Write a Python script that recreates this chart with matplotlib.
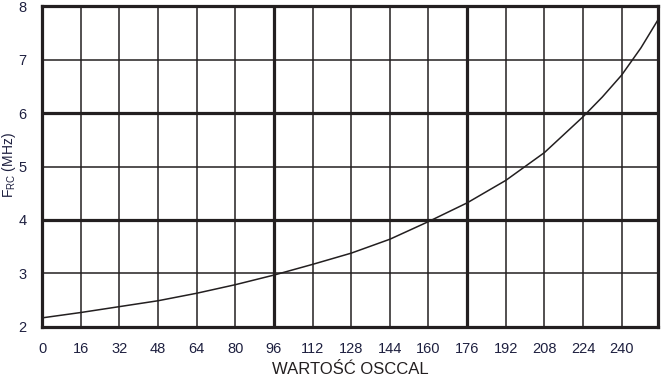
import matplotlib
matplotlib.use("Agg")
import matplotlib.pyplot as plt
import numpy as np

plt.rcParams['font.family'] = ['Liberation Sans', 'DejaVu Sans']

osccal = [0, 16, 32, 48, 64, 80, 96, 112, 128, 144, 160, 176, 192, 208, 224, 232, 240, 248, 255]
freq = [2.17, 2.27, 2.38, 2.49, 2.63, 2.79, 2.97, 3.17, 3.38, 3.64, 3.97, 4.32, 4.74, 5.26, 5.93, 6.30, 6.71, 7.22, 7.74]
xticks = list(range(0, 256, 16))
yticks = [2, 3, 4, 5, 6, 7, 8]
thick_x = [96, 176]
thick_y = [4, 6]

ink = '#231f20'
txt = '#1e2040'

fig = plt.figure(figsize=(6.68, 3.78), dpi=100)
ax = fig.add_axes([0.0629, 0.135, 0.922, 0.849])
ax.set_xlim(0, 255)
ax.set_ylim(2, 8)

for x in xticks[1:]:
    ax.axvline(x, color=ink, lw=2.3 if x in thick_x else 1.1, zorder=1)
for y in yticks[1:-1]:
    ax.axhline(y, color=ink, lw=2.3 if y in thick_y else 1.1, zorder=1)

ax.plot(osccal, freq, color=ink, lw=1.1, zorder=3)

for s in ax.spines.values():
    s.set_linewidth(2.3)
    s.set_color(ink)

ax.set_xticks(xticks)
ax.set_yticks(yticks)
ax.tick_params(length=0, labelsize=10.5, labelcolor=txt)
ax.tick_params(axis='x', pad=11)
ax.tick_params(axis='y', pad=11)

ax.set_xlabel('WARTOŚĆ OSCCAL', fontsize=12, color=ink, labelpad=4)
fig.text(0.014, 0.563, r'$\mathregular{F_{RC}}$ (MHz)', fontsize=10, color=txt,
         rotation=90, ha='center', va='center')

fig.savefig('out.png', dpi=100)
